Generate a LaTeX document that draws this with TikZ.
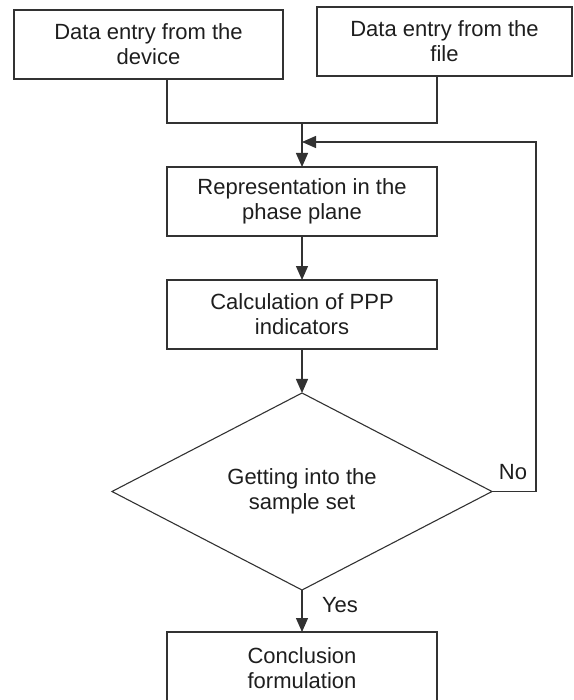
\documentclass[tikz,border=0pt]{standalone}
\usepackage{fontspec}
\setmainfont{Liberation Sans}
\usetikzlibrary{shapes.geometric,arrows.meta,positioning}
\definecolor{linegray}{RGB}{50,50,50}
\definecolor{textgray}{RGB}{30,30,30}

\begin{document}
\begin{tikzpicture}[
    x=1pt, y=1pt,
    every node/.style={text=textgray, font=\fontsize{22}{25}\selectfont, align=center},
    block/.style={draw=linegray, line width=1.3pt, minimum width=270pt, minimum height=69pt, inner sep=0pt, outer sep=0pt},
    decision/.style={draw=linegray, line width=1.1pt, diamond, aspect=2, minimum width=380pt, minimum height=197pt, inner sep=0pt, outer sep=0pt},
    line/.style={draw=linegray, line width=1.3pt},
    arrow/.style={line, -{Triangle[length=14pt, width=12pt]}}
]
\useasboundingbox (0,0) rectangle (573,-700);
% two sources of data
\node[block, minimum width=269pt] (device) at (148.5,-44.5) {Data entry from the\\device};
\node[block, minimum width=255pt] (file) at (444.5,-41.5) {Data entry from the\\file};
% main chain
\node[block] (phase) at (302,-201.5) {Representation in the\\phase plane};
\node[block, below=44pt of phase] (ppp) {Calculation of PPP\\indicators};
\node[decision, below=44pt of ppp] (sample) {Getting into the\\sample set};
\node[block, below=42pt of sample, minimum height=72pt] (concl) {Conclusion\\formulation};
\coordinate (join) at (302,-123);
\coordinate (back) at (302,-142);
% connectors
\draw[line] (device.south -| phase.west) |- (join) -| (file.south -| phase.east);
\draw[arrow] (join) -- (phase);
\draw[arrow] (phase) -- (ppp);
\draw[arrow] (ppp) -- (sample);
\draw[arrow] (sample) -- (concl);
\draw[arrow] (sample.east) -- ++(44,0) |- (back);
\node (no) at (513,-472) {No};
\node (yes) at (340,-605) {Yes};
\end{tikzpicture}
\end{document}
